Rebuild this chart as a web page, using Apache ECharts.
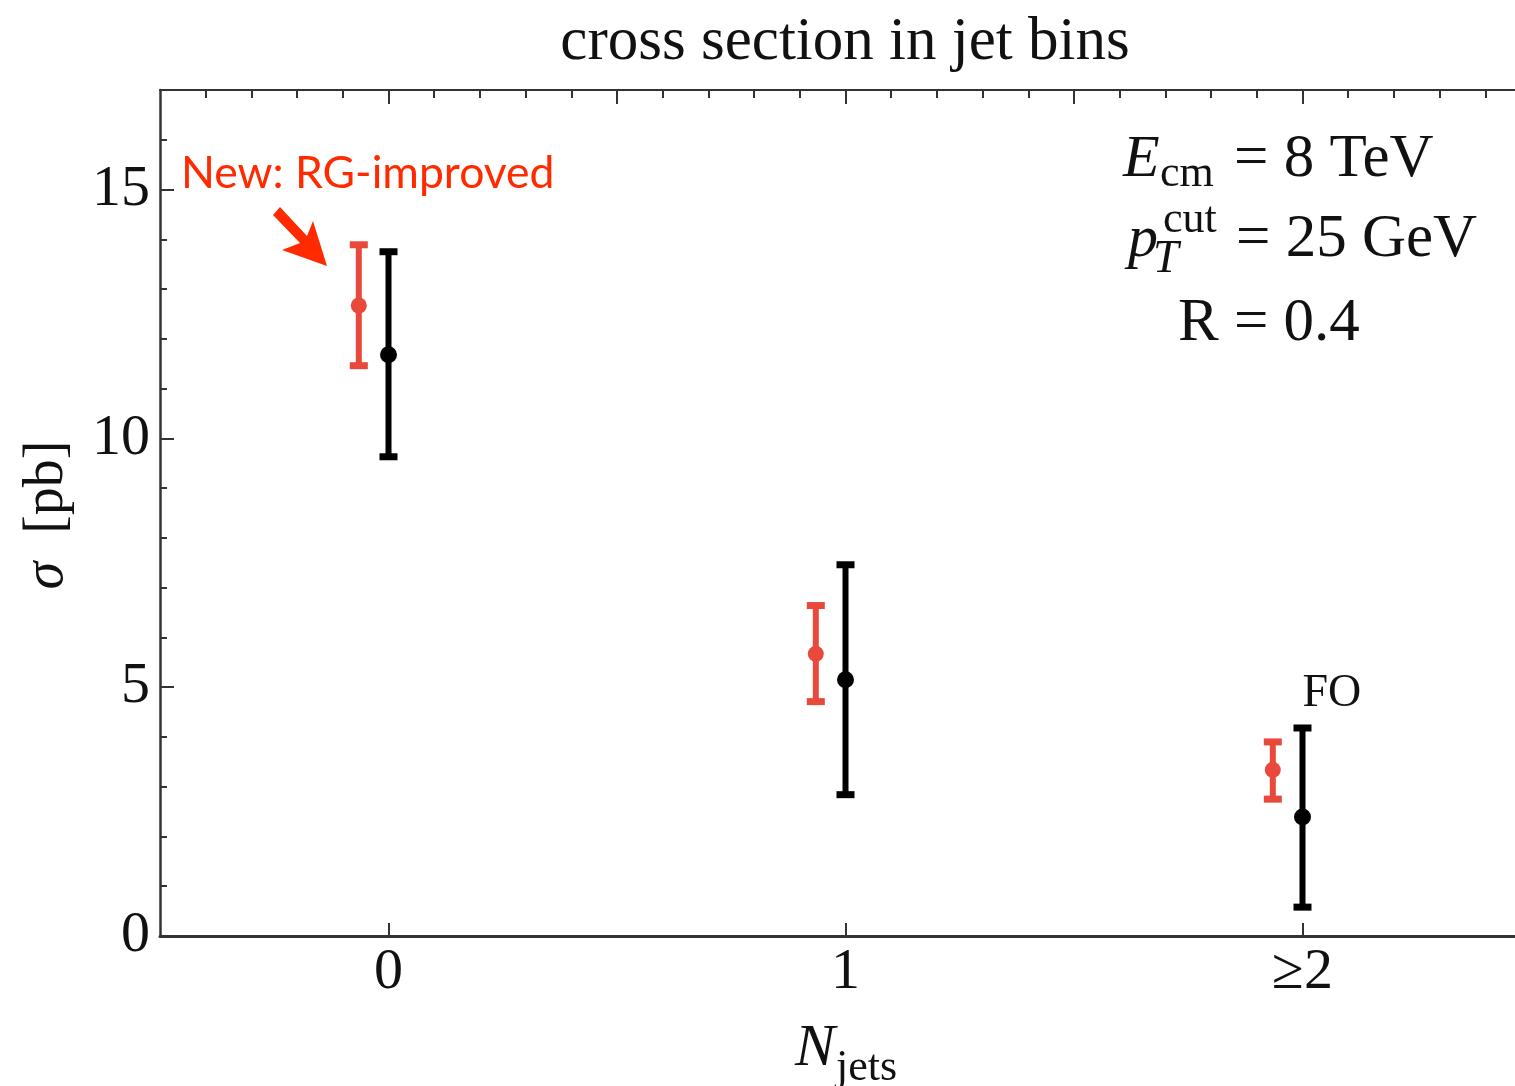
<!DOCTYPE html>
<html>
<head>
<meta charset="utf-8">
<title>cross section in jet bins</title>
<script src="https://cdn.jsdelivr.net/npm/echarts@6/dist/echarts.min.js"></script>
<style>
  html, body { margin: 0; padding: 0; background: #ffffff; }
  #chart { width: 1515px; height: 1086px; }
</style>
</head>
<body>
<div id="chart"></div>
<script>
// Jet-bin cross sections (pb) at 8 TeV, pT cut 25 GeV, R = 0.4
const binValues = [0, 1, 2];
const binLabels = ['0', '1', '≥2'];

// RG-improved prediction: central value and uncertainty band edges
const rgCentral = [12.67, 5.67, 3.34];
const rgLow     = [11.46, 4.71, 2.75];
const rgHigh    = [13.89, 6.64, 3.90];

// Fixed-order (FO) prediction
const foCentral = [11.68, 5.15, 2.39];
const foLow     = [9.63, 2.84, 0.58];
const foHigh    = [13.75, 7.46, 4.18];

const yMajorTicks = [0, 5, 10, 15];

// the RG-improved points sit slightly left of each bin
const rgShift = -0.065;

const SERIF = '"Liberation Serif", "DejaVu Serif", serif';
const RED = '#e8493a';
const AXIS = '#333333';

const chart = echarts.init(document.getElementById('chart'), null, { renderer: 'canvas' });

const rgData = binValues.map((b, i) => [b + rgShift, rgLow[i], rgHigh[i], rgCentral[i]]);
const foData = binValues.map((b, i) => [b, foLow[i], foHigh[i], foCentral[i]]);

// minor tick positions
const yMinor = [];
for (let v = 1; v <= 16; v++) if (v % 5 !== 0) yMinor.push(v);
const topMajor = [0, 0.5, 1, 1.5, 2];
const topMinor = [];
for (let k = -4; k <= 24; k++) if (k % 5 !== 0) topMinor.push(k / 10);

function errorBar(color, radius, tagLast) {
  return function (params, api) {
    const x = api.value(0);
    const lo = api.coord([x, api.value(1)]);
    const hi = api.coord([x, api.value(2)]);
    const c = api.coord([x, api.value(3)]);
    const capW = 18, capH = 7;
    const children = [
      { type: 'line', shape: { x1: lo[0], y1: lo[1], x2: hi[0], y2: hi[1] },
        style: { stroke: color, lineWidth: 6 } },
      { type: 'rect', shape: { x: hi[0] - capW / 2, y: hi[1] - capH / 2, width: capW, height: capH },
        style: { fill: color } },
      { type: 'rect', shape: { x: lo[0] - capW / 2, y: lo[1] - capH / 2, width: capW, height: capH },
        style: { fill: color } },
      { type: 'circle', shape: { cx: c[0], cy: c[1], r: radius }, style: { fill: color } }
    ];
    if (tagLast && params.dataIndex === binValues.length - 1) {
      children.push({
        type: 'text', x: hi[0], y: hi[1] - 20 - 0.305 * 46,
        style: { text: tagLast, font: '46px ' + SERIF, fill: '#111',
                 align: 'left', verticalAlign: 'middle', textAlign: 'left', textVerticalAlign: 'middle' }
      });
    }
    return { type: 'group', children };
  };
}

// text placed by its baseline
function label(str, x, base, size, opts) {
  opts = opts || {};
  const style = (opts.italic ? 'italic ' : '') + size + 'px ' + (opts.family || SERIF);
  return {
    type: 'text', x: x, y: base - (opts.mid || 0.305) * size,
    rotation: opts.rotation || 0,
    style: {
      text: str, font: style, fill: opts.color || '#111',
      align: opts.align || 'left', verticalAlign: 'middle',
      textAlign: opts.align || 'left', textVerticalAlign: 'middle'
    }
  };
}

const option = {
  backgroundColor: '#ffffff',
  animation: false,
  grid: { left: 160, top: 90, right: -16, bottom: 150, outerBoundsMode: 'none', containLabel: false },
  xAxis: [
    {
      type: 'value', position: 'bottom', min: -0.5, max: 2.5,
      axisLine: { show: true, onZero: false, lineStyle: { color: AXIS, width: 3 } },
      axisTick: { show: true, inside: true, length: 13, customValues: binValues,
                  lineStyle: { color: AXIS, width: 2 } },
      axisLabel: { show: true, customValues: binValues, margin: 8,
                   formatter: v => binLabels[binValues.indexOf(Math.round(v))],
                   fontFamily: SERIF, fontSize: 58, color: '#111' },
      splitLine: { show: false }
    },
    {
      type: 'value', position: 'top', min: -0.5, max: 2.5,
      axisLine: { show: true, onZero: false, lineStyle: { color: AXIS, width: 2 } },
      axisTick: { show: true, inside: true, length: 14, customValues: topMajor,
                  lineStyle: { color: AXIS, width: 2 } },
      axisLabel: { show: false },
      splitLine: { show: false }
    },
    {
      type: 'value', position: 'top', min: -0.5, max: 2.5,
      axisLine: { show: false, onZero: false },
      axisTick: { show: true, inside: true, length: 8, customValues: topMinor,
                  lineStyle: { color: AXIS, width: 2 } },
      axisLabel: { show: false },
      splitLine: { show: false }
    }
  ],
  yAxis: [
    {
      type: 'value', position: 'left', min: 0, max: 17,
      axisLine: { show: true, onZero: false, lineStyle: { color: AXIS, width: 2.5 } },
      axisTick: { show: true, inside: true, length: 14, customValues: yMajorTicks,
                  lineStyle: { color: AXIS, width: 2 } },
      axisLabel: { show: true, customValues: yMajorTicks, margin: 10,
                   fontFamily: SERIF, fontSize: 58, color: '#111' },
      splitLine: { show: false }
    },
    {
      type: 'value', position: 'left', min: 0, max: 17,
      axisLine: { show: false, onZero: false },
      axisTick: { show: true, inside: true, length: 7, customValues: yMinor,
                  lineStyle: { color: AXIS, width: 2 } },
      axisLabel: { show: false },
      splitLine: { show: false }
    }
  ],
  series: [
    {
      name: 'RG-improved', type: 'custom', xAxisIndex: 0, yAxisIndex: 0,
      renderItem: errorBar(RED, 8, null), data: rgData, clip: false, z: 3
    },
    {
      name: 'FO', type: 'custom', xAxisIndex: 0, yAxisIndex: 0,
      renderItem: errorBar('#000000', 8.5, 'FO'), data: foData, clip: false, z: 4
    }
  ],
  graphic: [
    label('cross section in jet bins', 845, 62, 61, { align: 'center' }),

    // y-axis title (reads bottom to top)
    {
      type: 'text', x: 47, y: 515, rotation: Math.PI / 2,
      style: {
        text: '{i|σ}  [pb]', fill: '#111',
        font: '56px ' + SERIF,
        align: 'center', verticalAlign: 'middle', textAlign: 'center', textVerticalAlign: 'middle',
        rich: { i: { fontStyle: 'italic', fontFamily: SERIF, fontSize: 56 } }
      }
    },

    // x-axis title N_jets
    label('N', 795, 1068, 60, { italic: true }),
    label('jets', 836, 1082, 44),

    // run parameters
    label('E', 1123, 179, 60, { italic: true }),
    label('cm', 1160, 188, 44),
    label('= 8 TeV', 1234, 179, 61),
    label('p', 1128, 259, 60, { italic: true }),
    label('cut', 1163, 234, 44),
    label('T', 1153, 274, 46, { italic: true }),
    label('= 25 GeV', 1236, 259, 61),
    label('R = 0.4', 1178, 343, 61),

    // annotation
    label('New: RG-improved', 181, 188, 44.5, { family: 'Lato, "Open Sans", sans-serif', color: '#ff2a00', mid: 0.32 }),
    {
      type: 'polygon',
      shape: { points: [[280, 207], [273, 215], [300, 243], [282, 250], [327, 266], [313, 221], [307, 236]] },
      style: { fill: '#ff2a00' }
    }
  ]
};

chart.setOption(option);
</script>
</body>
</html>
